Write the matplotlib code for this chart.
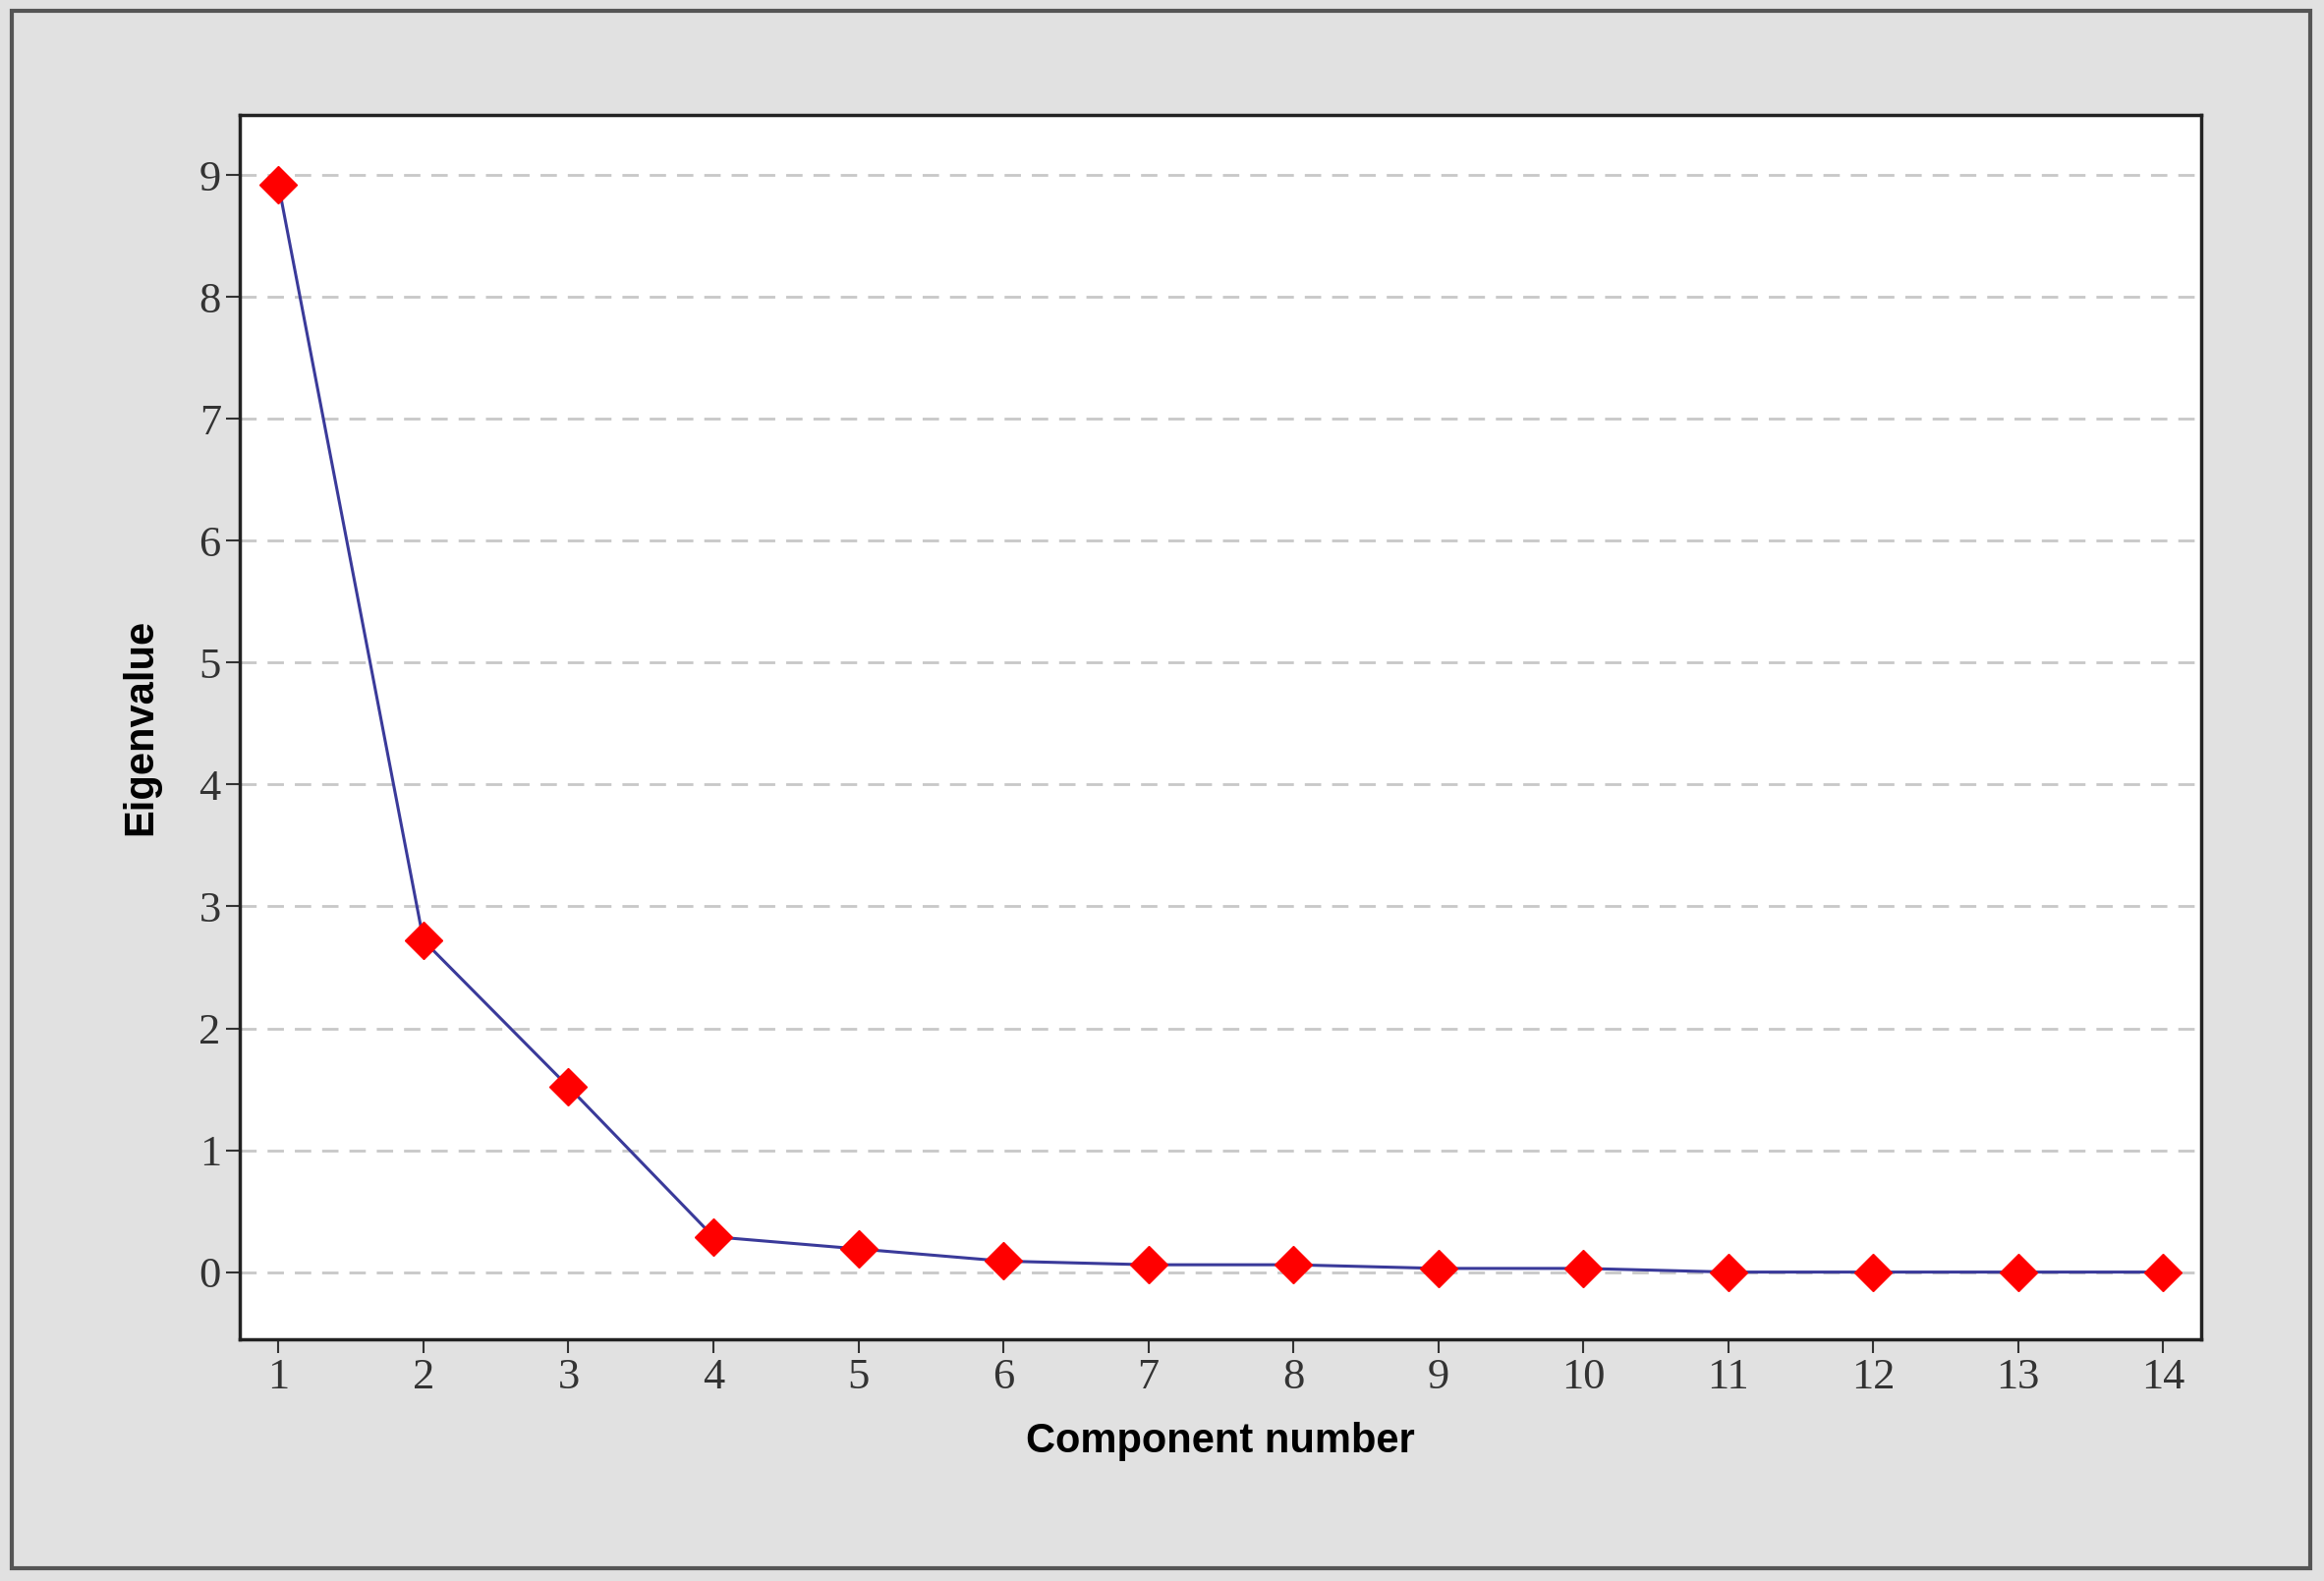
import matplotlib.pyplot as plt
from matplotlib.patches import Rectangle

components = list(range(1, 15))
eigenvalues = [8.92, 2.72, 1.52, 0.29, 0.19, 0.09, 0.06, 0.06, 0.03, 0.03, 0.0, 0.0, 0.0, 0.0]
y_ticks = list(range(0, 10))

fig = plt.figure(figsize=(23.65, 16.09), dpi=100)
fig.patch.set_facecolor('#e1e1e1')
# dark frame around the grey panel
fig.patches.append(Rectangle((0.005, 0.008), 0.989, 0.985, transform=fig.transFigure,
                             facecolor='none', edgecolor='#555555', linewidth=3, zorder=0))

ax = fig.add_axes([0.103, 0.153, 0.844, 0.774])
ax.set_facecolor('white')
ax.plot(components, eigenvalues, color='#3a3a9a', linewidth=2.2, zorder=2)
ax.plot(components, eigenvalues, linestyle='none', marker='D', markersize=19,
        color='#ff0000', zorder=3)

ax.set_xlim(0.73, 14.26)
ax.set_ylim(-0.55, 9.49)
ax.set_xticks(components)
ax.set_yticks(y_ticks)
for y in y_ticks:
    ax.axhline(y, color='#c8c8c8', linestyle=(0, (6, 4)), linewidth=2, zorder=1)

for lab in ax.get_xticklabels() + ax.get_yticklabels():
    lab.set_fontfamily('Liberation Serif')
    lab.set_fontsize(32)
    lab.set_color('#333333')
ax.tick_params(length=10, width=1.5, color='#333333')
for s in ax.spines.values():
    s.set_linewidth(2.5)
    s.set_color('#222222')

ax.set_xlabel('Component number', fontfamily='Liberation Sans', fontweight='bold',
              fontsize=30, labelpad=18)
ax.set_ylabel('Eigenvalue', fontfamily='Liberation Sans', fontweight='bold',
              fontsize=30, labelpad=28)

fig.savefig('out.png', dpi=100, facecolor=fig.get_facecolor())
